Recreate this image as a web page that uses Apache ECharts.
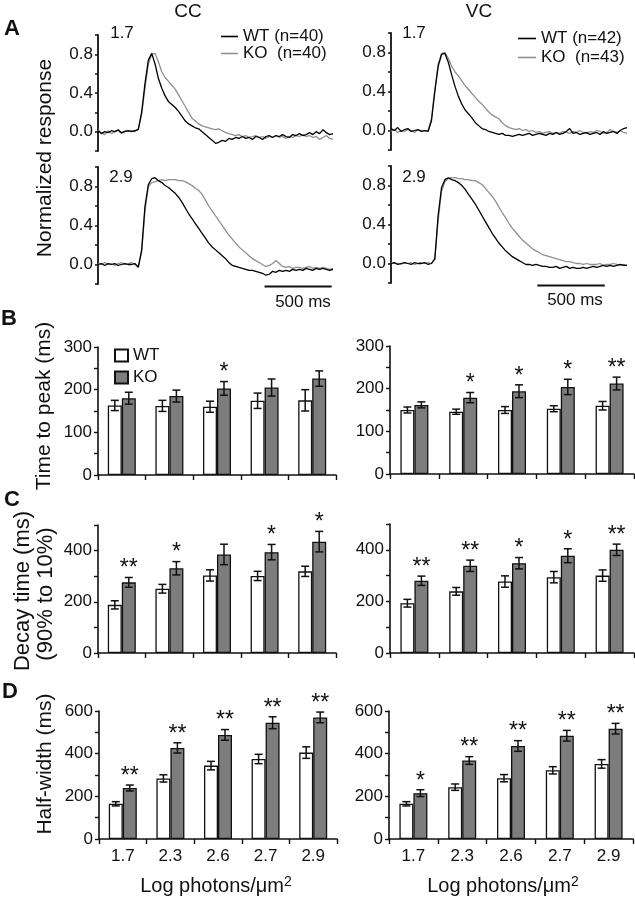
<!DOCTYPE html>
<html><head><meta charset="utf-8">
<script src="https://cdn.jsdelivr.net/npm/echarts@6/dist/echarts.min.js"></script>
<style>html,body{margin:0;padding:0;background:#fff}#c{width:635px;height:899px}</style>
</head><body><div id="c"></div>
<script>
// ---------- DATA ----------
const traceTime = [0,25,50,75,100,125,150,175,200,225,
250,275,300,325,350,375,400,425,450,475,
500,525,550,575,600,625,650,675,700,725,
750,775,800,825,850,875,900,925,950,975,
1000,1025,1050,1075,1100,1125,1150,1175,1200,1225,
1250,1275,1300,1325,1350,1375,1400,1425,1450,1475,
1500,1525,1550,1575,1600,1625,1650,1675,1700,1725,
1750];

const ccLowWT = [0.01,-0.02,0.0,-0.01,0.01,0.0,0.02,-0.01,0.0,0.01,
0.0,0.01,0.02,0.2,0.5,0.74,0.81,0.7,0.55,0.45,
0.37,0.31,0.28,0.25,0.21,0.16,0.11,0.08,0.06,0.04,
0.03,0.0,-0.03,-0.06,-0.09,-0.12,-0.11,-0.09,-0.1,-0.07,
-0.08,-0.06,-0.07,-0.05,-0.07,-0.06,-0.08,-0.05,-0.06,-0.08,
-0.05,-0.04,-0.06,-0.04,-0.05,-0.03,-0.05,-0.06,-0.03,-0.04,
-0.02,-0.04,-0.03,-0.01,-0.03,0.0,-0.02,0.02,-0.01,-0.03,
-0.02];
const ccLowKO = [0.02,-0.01,-0.03,0.01,-0.02,0.0,0.01,-0.02,0.01,0.0,
0.01,0.0,0.03,0.18,0.45,0.7,0.8,0.81,0.72,0.62,
0.56,0.52,0.48,0.44,0.38,0.32,0.26,0.2,0.14,0.11,
0.08,0.06,0.05,0.04,0.03,0.02,0.03,0.01,-0.01,-0.02,
-0.03,-0.04,-0.03,-0.05,-0.04,-0.06,-0.05,-0.04,-0.06,-0.05,
-0.07,-0.05,-0.06,-0.04,-0.06,-0.05,-0.07,-0.05,-0.06,-0.04,
-0.05,-0.03,-0.05,-0.04,-0.06,-0.05,-0.08,-0.06,-0.04,-0.07,
-0.08];
const ccHighWT = [0.0,0.01,-0.01,0.01,0.0,0.01,-0.01,0.0,0.01,0.0,
0.0,0.01,-0.03,0.15,0.6,0.82,0.88,0.89,0.86,0.84,
0.81,0.79,0.76,0.73,0.69,0.64,0.58,0.52,0.47,0.42,
0.37,0.32,0.27,0.22,0.18,0.15,0.12,0.09,0.06,0.02,
-0.01,-0.02,-0.03,-0.04,-0.05,-0.06,-0.06,-0.07,-0.08,-0.09,
-0.11,-0.1,-0.07,-0.08,-0.06,-0.07,-0.06,-0.07,-0.05,-0.06,
-0.05,-0.06,-0.04,-0.05,-0.06,-0.04,-0.05,-0.04,-0.05,-0.06,
-0.05];
const ccHighKO = [0.01,0.0,0.02,0.0,0.01,-0.01,0.01,0.02,0.0,0.01,
0.02,0.0,-0.02,0.12,0.55,0.8,0.84,0.85,0.86,0.87,
0.86,0.87,0.87,0.87,0.86,0.86,0.85,0.83,0.81,0.78,
0.76,0.72,0.66,0.6,0.55,0.5,0.45,0.4,0.35,0.3,
0.26,0.22,0.18,0.15,0.12,0.09,0.06,0.04,0.02,0.0,
-0.02,-0.01,0.01,0.04,0.01,-0.02,-0.03,-0.02,-0.04,-0.03,
-0.03,-0.04,-0.03,-0.02,-0.04,-0.03,-0.04,-0.03,-0.04,-0.05,
-0.04];
const vcLowWT = [0.02,0.0,0.03,-0.01,0.01,0.02,-0.01,0.0,0.01,-0.01,
0.0,-0.01,0.1,0.4,0.66,0.78,0.79,0.7,0.57,0.45,
0.35,0.27,0.21,0.17,0.13,0.08,0.05,0.02,0.01,-0.01,
-0.02,-0.03,-0.04,-0.03,-0.05,-0.05,-0.06,-0.05,-0.04,-0.05,
-0.04,-0.03,-0.05,-0.04,-0.03,-0.04,-0.05,-0.03,-0.04,-0.02,
-0.04,-0.03,-0.01,0.02,-0.03,-0.02,-0.04,-0.03,-0.02,-0.04,
-0.03,-0.02,-0.04,-0.01,-0.03,-0.02,-0.01,-0.03,0.0,0.02,
0.03];
const vcLowKO = [-0.01,0.01,-0.02,0.0,-0.01,0.01,0.0,-0.02,0.01,0.0,
-0.01,0.0,0.12,0.42,0.68,0.79,0.8,0.74,0.66,0.6,
0.56,0.51,0.46,0.42,0.38,0.34,0.3,0.27,0.23,0.19,
0.16,0.14,0.12,0.08,0.05,0.03,0.02,0.01,0.02,0.0,
0.01,-0.01,0.0,-0.02,-0.01,-0.03,-0.02,-0.01,-0.03,-0.02,
-0.03,-0.01,-0.02,-0.03,-0.01,-0.02,0.0,-0.02,-0.03,-0.01,
-0.02,0.0,-0.01,-0.03,-0.02,0.01,-0.01,-0.02,0.0,-0.02,
-0.03];
const vcHighWT = [0.0,0.01,-0.01,0.0,0.01,0.0,-0.01,0.01,0.0,0.0,
0.01,-0.01,0.0,0.05,0.5,0.78,0.86,0.88,0.86,0.85,
0.83,0.8,0.76,0.71,0.66,0.61,0.55,0.49,0.43,0.37,
0.31,0.26,0.21,0.17,0.13,0.1,0.07,0.05,0.03,0.01,
-0.01,-0.01,-0.02,-0.01,-0.02,-0.03,-0.03,-0.04,-0.04,-0.03,
-0.05,-0.04,-0.03,-0.05,-0.04,-0.05,-0.05,-0.04,-0.05,-0.04,
-0.03,-0.04,-0.03,-0.02,-0.03,-0.02,-0.03,-0.02,-0.01,-0.02,
-0.02];
const vcHighKO = [0.01,0.0,0.0,-0.01,0.01,0.0,0.01,-0.01,0.0,0.01,
0.0,0.01,0.0,0.04,0.45,0.74,0.84,0.87,0.88,0.88,
0.87,0.87,0.86,0.86,0.85,0.85,0.83,0.81,0.77,0.73,
0.69,0.64,0.58,0.52,0.47,0.41,0.36,0.32,0.28,0.24,
0.21,0.18,0.15,0.13,0.11,0.09,0.08,0.07,0.06,0.05,
0.04,0.03,0.02,0.02,0.01,0.0,0.0,-0.01,0.0,-0.01,
-0.01,-0.01,0.0,-0.02,-0.01,-0.01,0.0,-0.01,-0.02,-0.01,
-0.02];

const scaleBarCC = [1240, 1740];   // 500 ms
const scaleBarVC = [1085, 1585];   // 500 ms
const traceTickLabels = ['0.0', '0.4', '0.8'];

const categories = ['1.7', '2.3', '2.6', '2.7', '2.9'];

const ttpCC_WT = [163, 162, 160, 174, 175];
const ttpCC_WTerr = [12, 13, 13, 18, 25];
const ttpCC_KO = [180, 185, 203, 205, 226];
const ttpCC_KOerr = [14, 14, 16, 20, 18];
const ttpCC_stars = ['', '', '*', '', ''];

const ttpVC_WT = [150, 146, 150, 153, 160];
const ttpVC_WTerr = [7, 6, 8, 7, 10];
const ttpVC_KO = [162, 179, 194, 204, 212];
const ttpVC_KOerr = [7, 12, 15, 18, 15];
const ttpVC_stars = ['', '*', '*', '*', '**'];

const decCC_WT = [188, 251, 303, 301, 319];
const decCC_WTerr = [16, 17, 22, 18, 20];
const decCC_KO = [276, 331, 385, 394, 435];
const decCC_KOerr = [19, 26, 40, 30, 40];
const decCC_stars = ['**', '*', '', '*', '*'];

const decVC_WT = [193, 239, 277, 294, 300];
const decVC_WTerr = [15, 15, 22, 22, 22];
const decVC_KO = [280, 338, 348, 377, 400];
const decVC_KOerr = [18, 22, 22, 27, 22];
const decVC_stars = ['**', '**', '*', '*', '**'];

const hwCC_WT = [165, 284, 344, 375, 405];
const hwCC_WTerr = [10, 17, 20, 22, 27];
const hwCC_KO = [239, 427, 488, 545, 570];
const hwCC_KOerr = [14, 24, 25, 28, 25];
const hwCC_stars = ['**', '**', '**', '**', '**'];

const hwVC_WT = [165, 243, 285, 322, 352];
const hwVC_WTerr = [10, 15, 17, 17, 20];
const hwVC_KO = [215, 368, 436, 484, 517];
const hwVC_KOerr = [16, 18, 25, 25, 25];
const hwVC_stars = ['*', '**', '**', '**', '**'];

const ttpTickLabels = [0, 100, 200, 300];
const decTickLabels = [0, 200, 400];
const hwTickLabels = [0, 200, 400, 600];

// ---------- STYLE / LAYOUT ----------
const FONT = 'Liberation Sans';
const INK = '#111';
const WT_LINE = '#000';
const KO_LINE = '#8f8f8f';
const KO_FILL = '#7d7d7d';

const grids = [
  {left: 98, top: 35, width: 235, height: 116},   // 0 CC 1.7
  {left: 98, top: 167, width: 235, height: 117},  // 1 CC 2.9
  {left: 391, top: 33, width: 236, height: 117},  // 2 VC 1.7
  {left: 391, top: 166, width: 236, height: 117}, // 3 VC 2.9
  {left: 98, top: 347, width: 238, height: 128},  // 4 B CC
  {left: 390, top: 346, width: 244, height: 128}, // 5 B VC
  {left: 98, top: 525, width: 238, height: 128},  // 6 C CC
  {left: 390, top: 524, width: 244, height: 129}, // 7 C VC
  {left: 99, top: 711, width: 238, height: 128},  // 8 D CC
  {left: 389, top: 711, width: 244, height: 128}  // 9 D VC
];

const xAxes = [], yAxes = [], series = [];

function traceAxes(gi) {
  xAxes.push({gridIndex: gi, type: 'value', min: 0, max: 1750, show: false});
  yAxes.push({
    gridIndex: gi, type: 'value', min: -0.2, max: 1.0, interval: 0.2,
    splitLine: {show: false},
    axisLine: {show: true, lineStyle: {color: INK, width: 1.8}},
    axisTick: {show: true, length: 3, lineStyle: {color: INK, width: 1.5}},
    axisLabel: {
      fontSize: 17, fontFamily: FONT, color: INK, margin: 5,
      formatter: v => { const s = (Math.round(v * 10) / 10).toFixed(1); return traceTickLabels.includes(s) ? s : ''; }
    }
  });
}
function traceLine(gi, name, vals, color, z) {
  series.push({
    type: 'line', name, xAxisIndex: gi, yAxisIndex: gi,
    data: traceTime.map((t, i) => [t, vals[i]]),
    symbol: 'none', showSymbol: false, silent: true, z,
    lineStyle: {color, width: 1.3}, itemStyle: {color}
  });
}
function scaleBar(gi, ts) {
  series.push({
    type: 'line', xAxisIndex: gi, yAxisIndex: gi, clip: false, silent: true,
    data: ts.map(t => [t, -0.225]), symbol: 'none',
    lineStyle: {color: INK, width: 2}
  });
}
function barAxes(gi, max, interval, labels, showX) {
  xAxes.push({
    gridIndex: gi, type: 'category', data: categories,
    axisLine: {show: true, lineStyle: {color: INK, width: 1.6}},
    axisTick: {show: true, length: 5, interval: 0, lineStyle: {color: INK, width: 1.4}},
    axisLabel: {show: showX, fontSize: 17, fontFamily: FONT, color: INK, margin: 9}
  });
  yAxes.push({
    gridIndex: gi, type: 'value', min: 0, max, interval,
    splitLine: {show: false},
    axisLine: {show: true, lineStyle: {color: INK, width: 1.6}},
    axisTick: {show: true, length: 4, lineStyle: {color: INK, width: 1.4}},
    axisLabel: {
      fontSize: 17, fontFamily: FONT, color: INK, margin: 6,
      formatter: v => labels.includes(Math.round(v)) ? String(Math.round(v)) : ''
    }
  });
}
function errSeries(gi, vals, errs, stars, side) {
  series.push({
    type: 'custom', xAxisIndex: gi, yAxisIndex: gi, silent: true, z: 5,
    data: vals.map((v, i) => [i, v, errs[i]]),
    renderItem: (params, api) => {
      const i = api.value(0), v = api.value(1), e = api.value(2);
      const cx = api.coord([i, v])[0] + side * 7;
      const yt = api.coord([i, v + e])[1], yb = api.coord([i, v - e])[1];
      const st = {stroke: INK, lineWidth: 1.5};
      const ch = [
        {type: 'line', shape: {x1: cx, y1: yt, x2: cx, y2: yb}, style: st},
        {type: 'line', shape: {x1: cx - 4, y1: yt, x2: cx + 4, y2: yt}, style: st},
        {type: 'line', shape: {x1: cx - 4, y1: yb, x2: cx + 4, y2: yb}, style: st}
      ];
      const s = stars ? stars[params.dataIndex] : '';
      if (s) ch.push({type: 'text', style: {text: s, x: cx, y: yt + 3, align: 'center', verticalAlign: 'bottom', fontSize: 23, fontFamily: FONT, fill: INK}});
      return {type: 'group', children: ch};
    }
  });
}
function barPanel(gi, max, interval, labels, showX, wt, wtErr, ko, koErr, stars) {
  barAxes(gi, max, interval, labels, showX);
  series.push({type: 'bar', name: 'WT', xAxisIndex: gi, yAxisIndex: gi, data: wt, barWidth: 14, barGap: '0%', silent: true,
    itemStyle: {color: '#fff', borderColor: INK, borderWidth: 1.3}});
  series.push({type: 'bar', name: 'KO', xAxisIndex: gi, yAxisIndex: gi, data: ko, barWidth: 14, barGap: '0%', silent: true,
    itemStyle: {color: KO_FILL, borderColor: INK, borderWidth: 1.3}});
  errSeries(gi, wt, wtErr, null, -1);
  errSeries(gi, ko, koErr, stars, 1);
}

// traces
traceAxes(0); traceAxes(1); traceAxes(2); traceAxes(3);
traceLine(0, 'KO  (n=40)', ccLowKO, KO_LINE, 2);
traceLine(0, 'WT (n=40)', ccLowWT, WT_LINE, 3);
traceLine(1, 'KO  (n=40)', ccHighKO, KO_LINE, 2);
traceLine(1, 'WT (n=40)', ccHighWT, WT_LINE, 3);
traceLine(2, 'KO  (n=43)', vcLowKO, KO_LINE, 2);
traceLine(2, 'WT (n=42)', vcLowWT, WT_LINE, 3);
traceLine(3, 'KO  (n=43)', vcHighKO, KO_LINE, 2);
traceLine(3, 'WT (n=42)', vcHighWT, WT_LINE, 3);
scaleBar(1, scaleBarCC);
scaleBar(3, scaleBarVC);

// bars
barPanel(4, 300, 50, ttpTickLabels, false, ttpCC_WT, ttpCC_WTerr, ttpCC_KO, ttpCC_KOerr, ttpCC_stars);
barPanel(5, 300, 50, ttpTickLabels, false, ttpVC_WT, ttpVC_WTerr, ttpVC_KO, ttpVC_KOerr, ttpVC_stars);
barPanel(6, 500, 100, decTickLabels, false, decCC_WT, decCC_WTerr, decCC_KO, decCC_KOerr, decCC_stars);
barPanel(7, 500, 100, decTickLabels, false, decVC_WT, decVC_WTerr, decVC_KO, decVC_KOerr, decVC_stars);
barPanel(8, 600, 100, hwTickLabels, true, hwCC_WT, hwCC_WTerr, hwCC_KO, hwCC_KOerr, hwCC_stars);
barPanel(9, 600, 100, hwTickLabels, true, hwVC_WT, hwVC_WTerr, hwVC_KO, hwVC_KOerr, hwVC_stars);

function txt(text, x, y, size, opts) {
  opts = opts || {};
  return {type: 'text', x, y, rotation: opts.rot || 0, silent: true,
    style: {text, align: 'center', verticalAlign: 'middle', fontSize: size, fontFamily: FONT,
      fontWeight: opts.bold ? 'bold' : 'normal', fill: INK}};
}
function logTitle(x, y) {
  return {type: 'text', x, y, silent: true,
    style: {text: '{a|Log photons/μm}{s|2}', align: 'center', verticalAlign: 'middle', fill: INK,
      rich: {a: {fontSize: 20, fontFamily: FONT, fill: INK, verticalAlign: 'bottom'},
             s: {fontSize: 14, fontFamily: FONT, fill: INK, verticalAlign: 'bottom', padding: [0, 0, 7, 0]}}}};
}

const R = Math.PI / 2;
const graphic = [
  txt('CC', 188, 12, 19), txt('VC', 479, 12, 19),
  txt('A', 12, 29, 22, {bold: true}), txt('B', 9, 319, 22, {bold: true}),
  txt('C', 12, 500, 22, {bold: true}), txt('D', 10, 692, 22, {bold: true}),
  txt('1.7', 122, 33, 17), txt('2.9', 121, 177, 17), txt('1.7', 414, 33, 17), txt('2.9', 414, 177, 17),
  txt('500 ms', 303, 302, 17), txt('500 ms', 575, 300, 17),
  txt('Normalized response', 45, 158, 21, {rot: R}),
  txt('Time to peak (ms)', 44, 406, 21, {rot: R}),
  txt('Decay time (ms)', 23, 591, 22, {rot: R}),
  txt('(90% to 10%)', 46, 594, 22, {rot: R}),
  txt('Half-width (ms)', 45, 764, 21, {rot: R}),
  logTitle(216, 886), logTitle(503, 886)
];

const legend = [
  {data: ['WT (n=40)', 'KO  (n=40)'], orient: 'vertical', left: 216, top: 23, itemWidth: 17, itemHeight: 1.6, itemGap: 0, icon: 'rect',
    textStyle: {fontSize: 17, fontFamily: FONT, color: INK, lineHeight: 17}, selectedMode: false},
  {data: ['WT (n=42)', 'KO  (n=43)'], orient: 'vertical', left: 513, top: 25, itemWidth: 18, itemHeight: 1.6, itemGap: 2, icon: 'rect',
    textStyle: {fontSize: 17, fontFamily: FONT, color: INK, lineHeight: 17}, selectedMode: false},
  {data: ['WT', 'KO'], orient: 'vertical', left: 109, top: 342, itemWidth: 13, itemHeight: 12, itemGap: 5, icon: 'rect',
    textStyle: {fontSize: 17, fontFamily: FONT, color: INK, lineHeight: 17}, selectedMode: false}
];

const chart = echarts.init(document.getElementById('c'), null, {renderer: 'canvas'});
chart.setOption({
  animation: false,
  backgroundColor: '#fff',
  textStyle: {fontFamily: FONT},
  grid: grids, xAxis: xAxes, yAxis: yAxes, series, graphic, legend
});
</script>
</body></html>
